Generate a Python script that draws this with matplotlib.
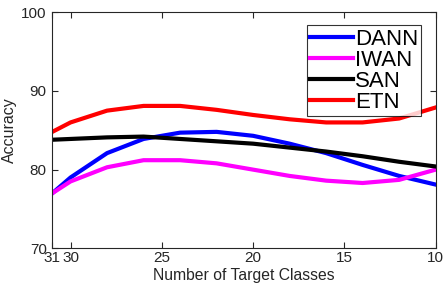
import matplotlib
matplotlib.use("Agg")
import matplotlib.pyplot as plt

# Data
classes = [31, 30, 28, 26, 24, 22, 20, 18, 16, 14, 12, 10]
dann = [77.0, 79.0, 82.1, 83.9, 84.7, 84.8, 84.3, 83.3, 82.1, 80.6, 79.2, 78.1]
iwan = [77.0, 78.5, 80.3, 81.2, 81.2, 80.8, 80.0, 79.2, 78.6, 78.3, 78.7, 80.0]
san = [83.8, 83.9, 84.1, 84.2, 83.9, 83.6, 83.3, 82.8, 82.3, 81.7, 81.0, 80.4]
etn = [84.8, 86.0, 87.5, 88.1, 88.1, 87.6, 86.95, 86.4, 86.0, 86.0, 86.5, 87.9]

xticks = [31, 30, 25, 20, 15, 10]
yticks = [70, 80, 90, 100]

plt.rcParams['font.family'] = ['Liberation Sans', 'DejaVu Sans']
axcol = '#262626'

fig = plt.figure(figsize=(4.45, 2.84), dpi=100)
ax = fig.add_axes([0.1175, 0.1257, 0.8615, 0.831])

ax.plot(classes, dann, color='#0000ff', lw=3, label='DANN')
ax.plot(classes, iwan, color='#ff00ff', lw=3, label='IWAN')
ax.plot(classes, san, color='black', lw=3, label='SAN')
ax.plot(classes, etn, color='#ff0000', lw=3, label='ETN')

ax.set_xlim(31, 10)
ax.set_ylim(70, 100)
ax.set_xticks(xticks)
ax.set_yticks(yticks)
ax.tick_params(direction='in', length=4, width=0.8, top=True, right=True,
               labelsize=11, colors=axcol, pad=2)
ax.tick_params(axis='y', pad=4)
for s in ax.spines.values():
    s.set_color(axcol)
    s.set_linewidth(0.8)

ax.set_xlabel('Number of Target Classes', fontsize=11.3, color=axcol, labelpad=2)
ax.set_ylabel('Accuracy', fontsize=11.5, color=axcol, labelpad=3)

leg = ax.legend(loc='upper right', bbox_to_anchor=(0.963, 0.945), fontsize=16,
                frameon=True, fancybox=False, edgecolor='black',
                labelspacing=0.0, handlelength=1.9, handletextpad=0.1,
                borderpad=0.15, borderaxespad=0)
leg.get_frame().set_linewidth(0.8)

fig.savefig('out.png', dpi=100)
